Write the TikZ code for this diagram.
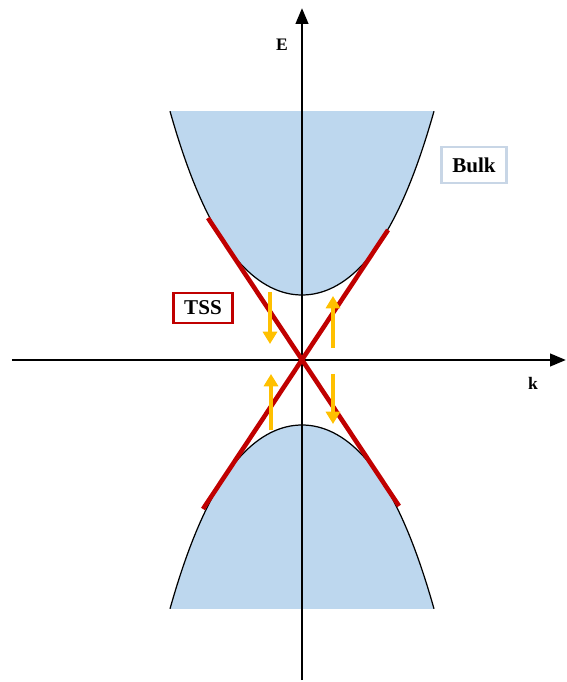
\documentclass[tikz,border=0pt]{standalone}
\usepackage{fontspec}
\setmainfont{Liberation Serif}
\usetikzlibrary{arrows.meta,positioning}
\definecolor{bulkblue}{RGB}{189,215,238}
\definecolor{bulkedge}{RGB}{200,214,230}
\definecolor{tssred}{RGB}{192,0,0}
\definecolor{spinyellow}{RGB}{255,192,0}

\begin{document}
\begin{tikzpicture}[
  x=0.02cm, y=0.02cm,
  axis/.style={line width=1.6pt, -{Triangle[length=9pt, width=7pt]}},
  band/.style={draw=black, line width=0.7pt},
  tss/.style={tssred, line width=2.6pt},
  spin/.style={spinyellow, line width=2.2pt, -{Triangle[length=7pt, width=8pt]}},
  labelbox/.style={font=\bfseries\fontsize{12}{14}\selectfont, inner sep=0pt, minimum height=0.62cm, text depth=0pt, line width=1.5pt},
  axlabel/.style={font=\bfseries\fontsize{10}{12}\selectfont}
]
\useasboundingbox (-302,-322) rectangle (264,360);

% bulk bands
\fill[bulkblue] plot[domain=-1.32:1.32, samples=80, variable=\t] ({100*\t}, {65+76.71*\t*\t+16.51*\t*\t*\t*\t}) -- cycle;
\fill[bulkblue] plot[domain=-1.32:1.32, samples=80, variable=\t] ({100*\t}, {-65-76.71*\t*\t-16.51*\t*\t*\t*\t}) -- cycle;
\draw[band] plot[domain=-1.32:1.32, samples=80, variable=\t] ({100*\t}, {65+76.71*\t*\t+16.51*\t*\t*\t*\t});
\draw[band] plot[domain=-1.32:1.32, samples=80, variable=\t] ({100*\t}, {-65-76.71*\t*\t-16.51*\t*\t*\t*\t});

% axes
\coordinate (o) at (0,0);
\coordinate (kmin) at (-290,0);
\coordinate (kmax) at (264,0);
\coordinate (emin) at (0,-320);
\coordinate (emax) at (0,352);
\draw[axis] (kmin) -- (kmax);
\draw[axis] (emin) -- (emax);
\node[axlabel] (elab) at (-20,315) {E};
\node[axlabel] (klab) at (231,-23) {k};

% surface states
\coordinate (tssul) at (-94,142);
\coordinate (tsslr) at (97,-146);
\coordinate (tssur) at (86,130);
\coordinate (tssll) at (-99,-149);
\draw[tss] (tssul) -- (tsslr);
\draw[tss] (tssur) -- (tssll);

% spin arrows
\coordinate (s1a) at (-32,68);  \coordinate (s1b) at (-32,16);
\coordinate (s2a) at (31,12);   \coordinate (s2b) at (31,64);
\coordinate (s3a) at (-31,-70); \coordinate (s3b) at (-31,-14);
\coordinate (s4a) at (31,-14);  \coordinate (s4b) at (31,-64);
\draw[spin] (s1a) -- (s1b);
\draw[spin] (s2a) -- (s2b);
\draw[spin] (s3a) -- (s3b);
\draw[spin] (s4a) -- (s4b);

% labels
\node[labelbox, draw=bulkedge, minimum width=1.3cm, minimum height=0.72cm] (bulk) at (172,195) {Bulk};
\node[labelbox, draw=tssred, minimum width=1.18cm, minimum height=0.6cm] (tsslab) at (-99,52) {TSS};
\end{tikzpicture}
\end{document}
